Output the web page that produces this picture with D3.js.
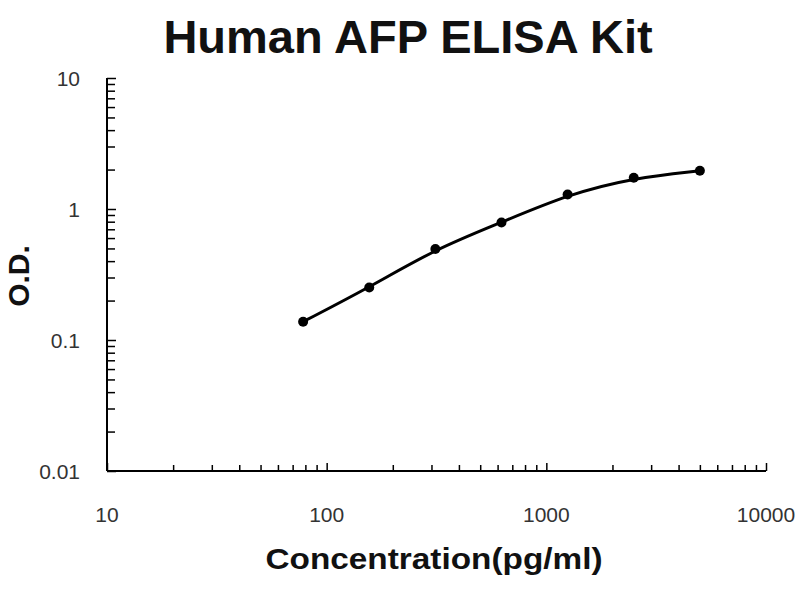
<!DOCTYPE html>
<html>
<head>
<meta charset="utf-8">
<script src="https://cdn.jsdelivr.net/npm/d3@7"></script>
<style>
  body { margin: 0; background: #fff; }
  svg { display: block; }
</style>
</head>
<body>
<svg width="800" height="600"></svg>
<script>
const svg = d3.select("svg");

// standard concentrations (pg/ml) and measured O.D.
const concentrations = [78.125, 156.25, 312.5, 625, 1250, 2500, 5000];
const odValues = [0.138, 0.252, 0.495, 0.79, 1.29, 1.73, 1.96];

const xTicks = [10, 100, 1000, 10000];
const yTicks = [0.01, 0.1, 1, 10];

const plotLeft = 107, plotRight = 766, plotTop = 78, plotBottom = 471;
const font = "Liberation Sans, Arial, sans-serif";

const x = d3.scaleLog().domain([10, 10000]).range([plotLeft, plotRight]);
const y = d3.scaleLog().domain([0.01, 10]).range([plotBottom, plotTop]);

// minor + major tick values for each decade
function logTicks(lo, hi) {
    const out = [];
    for (let d = lo; d < hi; d *= 10) {
        for (let k = 1; k <= 9; k++) out.push(d * k);
    }
    out.push(hi);
    return out;
}

// x axis, ticks pointing up into the plot
const xAxis = svg.append("g")
    .attr("transform", `translate(0,${plotBottom})`)
    .call(d3.axisTop(x).tickValues(logTicks(10, 10000)).tickSize(6).tickFormat(""));
xAxis.select(".domain").attr("d", `M${plotLeft},0H${plotRight}`).attr("stroke-width", 2);
xAxis.selectAll(".tick line").attr("stroke-width", 1.5)
    .filter(d => xTicks.includes(d)).attr("y2", -8);

// y axis, ticks pointing right into the plot
const yAxis = svg.append("g")
    .attr("transform", `translate(${plotLeft},0)`)
    .call(d3.axisRight(y).tickValues(logTicks(0.01, 10)).tickSize(8).tickFormat(""));
yAxis.select(".domain").attr("d", `M0,${plotTop}V${plotBottom}`).attr("stroke-width", 2);
yAxis.selectAll(".tick line").attr("stroke-width", 1.5)
    .filter(d => yTicks.includes(d)).attr("x2", 9);

// tick labels
svg.append("g").selectAll("text")
    .data(xTicks)
    .join("text")
    .attr("x", d => x(d))
    .attr("y", 522)
    .attr("text-anchor", "middle")
    .attr("font-family", font)
    .attr("font-size", 21)
    .attr("fill", "#333")
    .text(d => d);

svg.append("g").selectAll("text")
    .data(yTicks)
    .join("text")
    .attr("x", 80)
    .attr("y", d => y(d) + 8)
    .attr("text-anchor", "end")
    .attr("font-family", font)
    .attr("font-size", 21)
    .attr("fill", "#333")
    .text(d => d);

// smoothed standard curve
const pts = concentrations.map((c, i) => [c, odValues[i]]);
const line = d3.line()
    .x(d => x(d[0]))
    .y(d => y(d[1]))
    .curve(d3.curveBasis);

svg.append("path")
    .datum(pts)
    .attr("d", line)
    .attr("fill", "none")
    .attr("stroke", "#000")
    .attr("stroke-width", 3);

svg.append("g").selectAll("circle")
    .data(pts)
    .join("circle")
    .attr("cx", d => x(d[0]))
    .attr("cy", d => y(d[1]))
    .attr("r", 5)
    .attr("fill", "#000");

// title and axis titles
svg.append("text")
    .attr("x", 408)
    .attr("y", 53)
    .attr("text-anchor", "middle")
    .attr("font-family", font)
    .attr("font-weight", "bold")
    .attr("font-size", 47)
    .attr("fill", "#111")
    .text("Human AFP ELISA Kit");

svg.append("text")
    .attr("x", 434)
    .attr("y", 569)
    .attr("text-anchor", "middle")
    .attr("font-family", font)
    .attr("font-weight", "bold")
    .attr("font-size", 30)
    .attr("textLength", 337)
    .attr("lengthAdjust", "spacingAndGlyphs")
    .attr("fill", "#111")
    .text("Concentration(pg/ml)");

svg.append("text")
    .attr("transform", "translate(29,276) rotate(-90)")
    .attr("text-anchor", "middle")
    .attr("font-family", font)
    .attr("font-weight", "bold")
    .attr("font-size", 30)
    .attr("fill", "#111")
    .text("O.D.");
</script>
</body>
</html>
